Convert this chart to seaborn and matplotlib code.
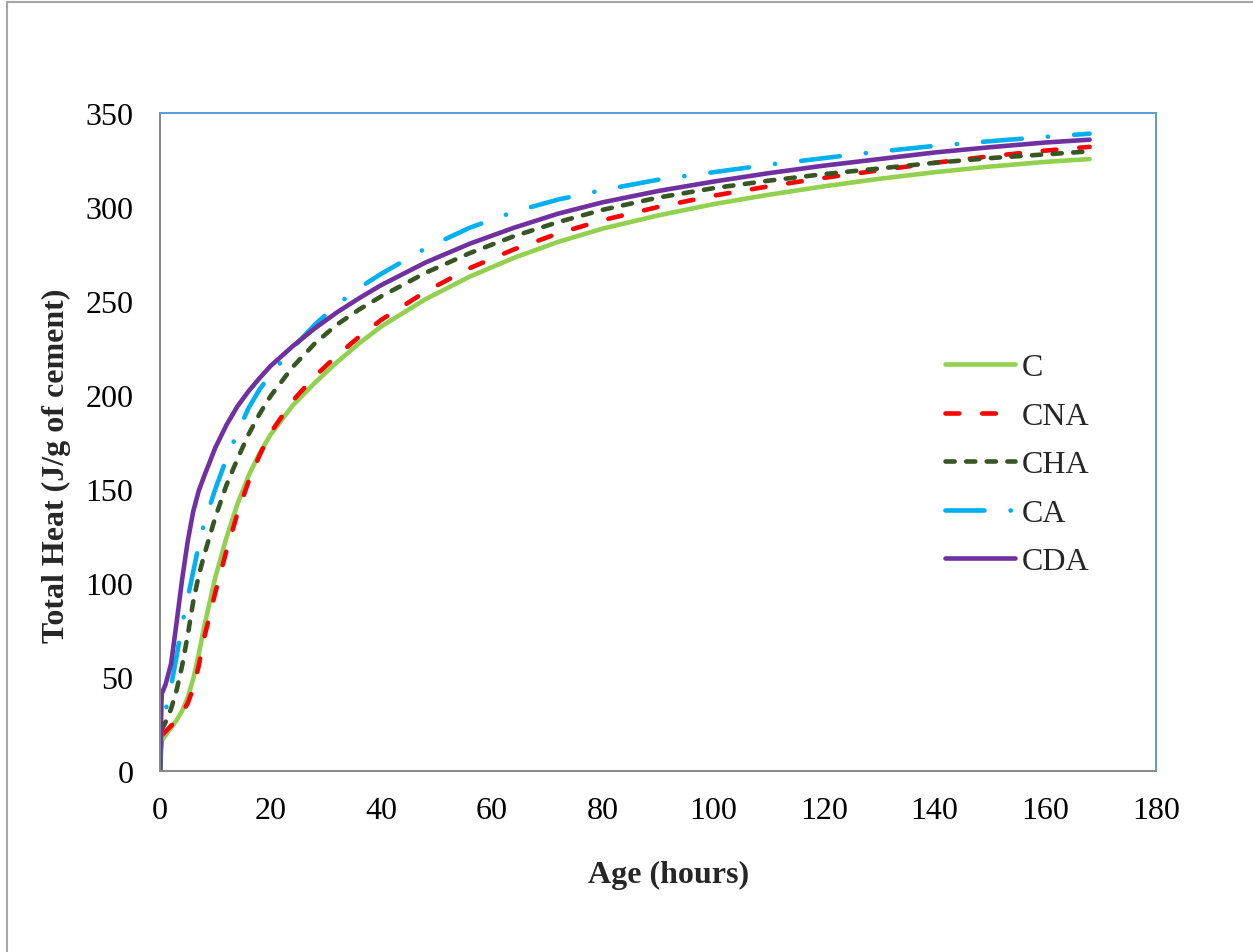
import matplotlib
matplotlib.use("Agg")
import matplotlib.pyplot as plt
from matplotlib.lines import Line2D
import seaborn as sns
import pandas as pd

# ---- data ----
hours = [0, 0.3, 1, 2, 3, 4, 5, 6, 7, 8, 10, 12, 14, 16, 18, 20, 24, 28, 32, 36, 40,
         48, 56, 64, 72, 80, 90, 100, 110, 120, 130, 140, 150, 160, 168]
heat_C = [0, 16, 19, 23, 27, 32, 39, 49, 62, 77, 103, 124, 142, 157, 169, 179, 194.5, 206.5, 217.5, 227.5, 236.5,
          251, 263, 273, 281.5, 288.5, 295.5, 301.5, 306.5, 311, 315, 318.5, 321.5, 324, 325.5]
heat_CNA = [0, 19, 21, 24, 27, 31, 36, 44, 56, 71, 95, 117, 137, 154, 168, 180, 197, 210, 221, 231, 240,
            255, 267.5, 277.5, 286, 293, 300, 306, 311, 315.5, 319.5, 323.5, 327, 330, 332]
heat_CHA = [0, 22, 26, 33, 43, 56, 72, 90, 104, 115, 135, 152, 166, 179, 190, 199.5, 215, 227.5, 237.5, 245.5, 252.5,
            265, 275.5, 284.5, 292, 298.5, 305, 310, 314, 317.5, 320.5, 323.5, 326, 328, 329.6]
heat_CA = [0, 28, 32, 45, 61, 78, 92, 106, 120, 132, 150, 166, 180, 193, 203, 211, 225, 237.5, 248, 257, 264.5,
           278, 289, 297.5, 304, 309, 314.5, 318.5, 322.5, 326, 329.5, 332.5, 335, 337.3, 339]
heat_CDA = [0, 41, 46, 57, 79, 102, 122, 138, 149, 157, 172, 184, 194, 202, 209, 215.5, 226, 235.5, 244, 251.5, 258.5,
            270.5, 280.5, 289, 296.5, 302.5, 308.5, 313.5, 318, 322, 325.5, 329, 331.8, 334.3, 335.8]

series_names = ["C", "CNA", "CHA", "CA", "CDA"]
series_values = [heat_C, heat_CNA, heat_CHA, heat_CA, heat_CDA]
x_ticks = [0, 20, 40, 60, 80, 100, 120, 140, 160, 180]
y_ticks = [0, 50, 100, 150, 200, 250, 300, 350]

colors = {"C": "#92D050", "CNA": "#FF0000", "CHA": "#375623", "CA": "#00B0F0", "CDA": "#7030A0"}
dashes = {"C": "", "CNA": (3.0, 5.0), "CHA": (2.0, 2.5), "CA": (8.5, 5.7, 0.05, 5.7), "CDA": ""}

rows = []
for name, vals in zip(series_names, series_values):
    for h, v in zip(hours, vals):
        rows.append({"Age": h, "Heat": v, "Series": name})
df = pd.DataFrame(rows)

# ---- style ----
sns.set_style("white")
plt.rcParams["font.family"] = ["Liberation Serif", "DejaVu Serif"]
plt.rcParams["lines.dash_capstyle"] = "round"
plt.rcParams["lines.solid_capstyle"] = "round"
plt.rcParams["lines.solid_joinstyle"] = "round"

W, H = 1253, 953
fig = plt.figure(figsize=(W / 100, H / 100), dpi=100)
ax = fig.add_axes([160 / W, 1 - 772 / H, (1156 - 160) / W, (772 - 114) / H])

sns.lineplot(data=df, x="Age", y="Heat", hue="Series", style="Series",
             hue_order=series_names, style_order=series_names,
             palette=colors, dashes=dashes, linewidth=3.3, ax=ax, legend=True,
             sort=False, estimator=None)

ax.set_xlim(0, 180)
ax.set_ylim(0, 350)
ax.set_xticks(x_ticks)
ax.set_yticks(y_ticks)
ax.tick_params(axis="both", labelsize=23, colors="#868686", labelcolor="black",
               direction="out", length=6, width=1.2)
ax.tick_params(axis="x", pad=12)
ax.tick_params(axis="y", pad=13)

for s in ["left", "bottom"]:
    ax.spines[s].set_color("#868686")
    ax.spines[s].set_linewidth(1.4)
for s in ["top", "right"]:
    ax.spines[s].set_color("#5B9BD5")
    ax.spines[s].set_linewidth(1.4)

ax.set_xlabel("Age (hours)", fontsize=23, fontweight="bold")
ax.set_ylabel("Total Heat (J/g of cement)", fontsize=23, fontweight="bold")
ax.xaxis.set_label_coords((669 - 160) / 996, (772 - 861) / 658)
ax.yaxis.set_label_coords((71 - 160) / 996, (772 - 466) / 658)

leg = ax.legend(loc="upper left", bbox_to_anchor=(945 / W, 1 - 354 / H),
                bbox_transform=fig.transFigure, frameon=False, fontsize=23,
                handlelength=2.2, handletextpad=0.2, labelspacing=0.6,
                borderpad=0, borderaxespad=0)
for line in leg.get_lines():
    line.set_linewidth(3.3)

# outer chart border
fig.add_artist(Line2D([7 / W, 1], [1 - 3 / H, 1 - 3 / H], transform=fig.transFigure,
                      color="#A6A6A6", linewidth=1.5))
fig.add_artist(Line2D([7 / W, 7 / W], [0, 1 - 3 / H], transform=fig.transFigure,
                      color="#A6A6A6", linewidth=1.5))

fig.savefig("out.png", dpi=100)
